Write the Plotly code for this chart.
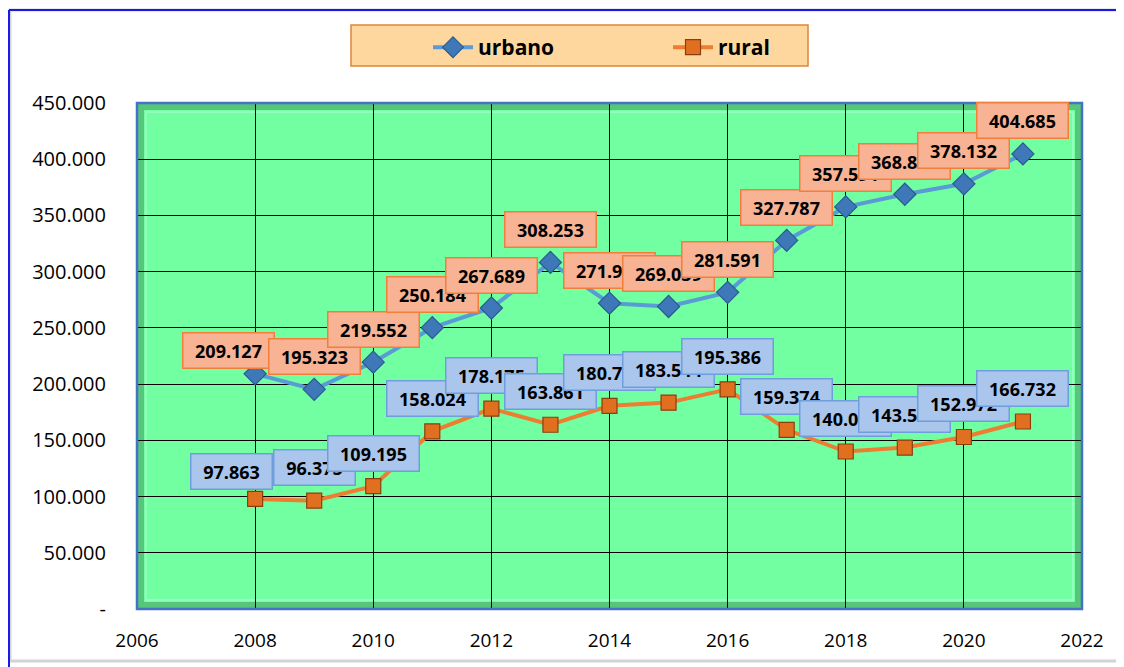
import plotly.graph_objects as go

years = [2008, 2009, 2010, 2011, 2012, 2013, 2014, 2015, 2016, 2017, 2018, 2019, 2020, 2021]
urbano = [209127, 195323, 219552, 250184, 267689, 308253, 271950, 269039, 281591, 327787, 357591, 368844, 378132, 404685]
rural = [97863, 96375, 109195, 158024, 178175, 163861, 180730, 183544, 195386, 159374, 140050, 143566, 152972, 166732]
y_tickvals = [0, 50000, 100000, 150000, 200000, 250000, 300000, 350000, 400000, 450000]
y_ticktext = ["-", "50.000", "100.000", "150.000", "200.000", "250.000", "300.000", "350.000", "400.000", "450.000"]
x_tickvals = [2006, 2008, 2010, 2012, 2014, 2016, 2018, 2020, 2022]
x_ticktext = ["2006", "2008", "2010", "2012", "2014", "2016", "2018", "2020", "2022"]


def fmt(v):
    return f"{v:,}".replace(",", ".")


# the page body has an 8px margin: the figure starts at page (8, 8)
OFF = 8
W, H = 1116, 659
L, R, T, B = 129, 42, 95, 58
PW, PH = W - L - R, H - T - B


def px(x):  # page x -> paper x
    return (x - OFF - L) / PW


def py(y):  # page y -> paper y
    return (H - B - (y - OFF)) / PH


fig = go.Figure()
fig.add_trace(go.Scatter(
    x=years, y=urbano, name="urbano", mode="lines+markers",
    line=dict(color="#5B9BD5", width=4),
    marker=dict(symbol="diamond", size=17, color="#3F78B8",
                line=dict(color="#2A5A8F", width=1.2)),
))
fig.add_trace(go.Scatter(
    x=years, y=rural, name="rural", mode="lines+markers",
    line=dict(color="#ED7D31", width=4),
    marker=dict(symbol="square", size=15, color="#E0701F",
                line=dict(color="#8B3E0E", width=1.2)),
))

annotations = []
for i, (x, v) in enumerate(zip(years, urbano)):
    annotations.append(dict(
        x=x, y=v, xref="x", yref="y", text=f"<b>{fmt(v)}</b>", showarrow=False,
        yshift=33 if i else 23, xshift=0 if i else -27,
        width=80, height=24,
        bgcolor="#F7B393", bordercolor="#F07F3C", borderwidth=1.5, borderpad=5,
        font=dict(family="Open Sans", size=18, color="#000000"),
    ))
for i, (x, v) in enumerate(zip(years, rural)):
    annotations.append(dict(
        x=x, y=v, xref="x", yref="y", text=f"<b>{fmt(v)}</b>", showarrow=False,
        yshift=33 if i else 27, xshift=0 if i else -24,
        width=70 if v < 100000 else 80, height=24,
        bgcolor="#AAC6EC", bordercolor="#6E9FDC", borderwidth=1.5, borderpad=5,
        font=dict(family="Open Sans", size=18, color="#000000"),
    ))

shapes = [
    # outer chart frame
    dict(type="rect", xref="paper", yref="paper", x0=px(10), x1=px(1120), y0=py(661), y1=py(10),
         line=dict(color="#D3D3D3", width=3), layer="below"),
    dict(type="line", xref="paper", yref="paper", x0=px(9), x1=px(1124), y0=py(10), y1=py(10),
         line=dict(color="#1A1AE6", width=2), layer="below"),
    dict(type="line", xref="paper", yref="paper", x0=px(9), x1=px(9), y0=py(667), y1=py(10),
         line=dict(color="#1A1AE6", width=2), layer="below"),
    # legend box
    dict(type="rect", xref="paper", yref="paper", x0=px(351), x1=px(808), y0=py(66), y1=py(25),
         fillcolor="#FDD79E", line=dict(color="#E0843A", width=1.5), layer="below"),
    # bevel inside plot area
    dict(type="rect", xref="paper", yref="paper", x0=px(141), x1=px(1078), y0=py(605), y1=py(107),
         line=dict(color="#55C67A", width=6), layer="below"),
    dict(type="rect", xref="paper", yref="paper", x0=px(146), x1=px(1073), y0=py(600), y1=py(112),
         line=dict(color="#95FFC0", width=2), layer="below"),
    # plot border
    dict(type="rect", xref="paper", yref="paper", x0=0, x1=1, y0=0, y1=1,
         line=dict(color="#4472C4", width=2.5), layer="above"),
]

fig.update_layout(
    width=W, height=H,
    margin=dict(l=L, r=R, t=T, b=B),
    paper_bgcolor="#FFFFFF",
    plot_bgcolor="#72FFA2",
    font=dict(family="Open Sans", color="#000000"),
    showlegend=True,
    legend=dict(
        orientation="h", x=px(428), y=py(27), xanchor="left", yanchor="top",
        bgcolor="rgba(0,0,0,0)", borderwidth=0,
        font=dict(family="Open Sans", size=21, color="#000000", weight="bold"),
        itemwidth=40, entrywidth=185, traceorder="normal",
    ),
    xaxis=dict(
        range=[2006, 2022], tickvals=x_tickvals, ticktext=x_ticktext,
        showgrid=True, gridcolor="#000000", gridwidth=1, zeroline=False,
        tickfont=dict(family="Open Sans", size=19), ticks="", ticklabelstandoff=18,
        showline=False,
    ),
    yaxis=dict(
        range=[0, 450000], tickvals=y_tickvals, ticktext=y_ticktext,
        showgrid=True, gridcolor="#000000", gridwidth=1, zeroline=False,
        tickfont=dict(family="Open Sans", size=20), ticks="", ticklabelstandoff=30,
        showline=False,
    ),
    annotations=annotations,
    shapes=shapes,
)

fig.write_html("out.html")
